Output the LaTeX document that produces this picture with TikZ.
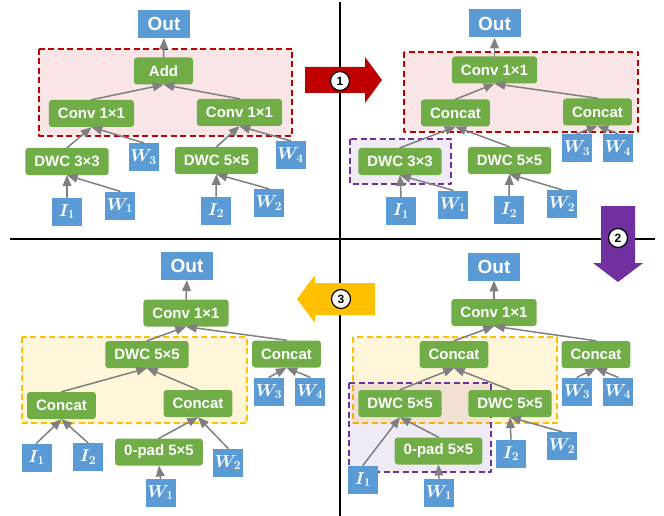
\documentclass[tikz,border=0pt]{standalone}
\usepackage{fontspec}
\setmainfont{Liberation Sans}
\usepackage{tikz}
\usetikzlibrary{arrows}

\definecolor{opgreen}{HTML}{70AD47}
\definecolor{inblue}{HTML}{5B9BD5}
\definecolor{edgegray}{HTML}{7F7F7F}
\definecolor{stepred}{HTML}{C00000}
\definecolor{steppurple}{HTML}{7030A0}
\definecolor{steporange}{HTML}{FFC000}

\begin{document}
\begin{tikzpicture}[line cap=round,line join=round,>=triangle 45,x=1pt,y=-1pt,
  op/.style={fill=opgreen,rounded corners=3pt,text=white,font=\fontsize{15}{15}\bfseries\selectfont,
    minimum height=27pt,inner xsep=9pt,inner ysep=0pt},
  var/.style={fill=inblue,text=white,font=\fontsize{17.5}{17.5}\selectfont\boldmath,minimum width=30pt,
    minimum height=28pt,inner sep=0pt},
  outbox/.style={fill=inblue,text=white,font=\fontsize{19}{19}\bfseries\selectfont,minimum width=52pt,
    minimum height=28pt,inner sep=0pt},
  edge/.style={->,draw=edgegray,line width=1.5pt},
  group/.style={dashed,dash pattern=on 6pt off 3.5pt,line width=2.2pt,line cap=butt},
  stepnum/.style={circle,draw=black,fill=white,line width=1.2pt,minimum size=19pt,inner sep=0pt,
    font=\fontsize{12}{12}\bfseries\selectfont}]
\useasboundingbox (0,0) rectangle (664,516);
% dashed groups
\draw [group,draw=stepred,fill=stepred,fill opacity=0.1] (39,49) rectangle (292,136);
\draw [group,draw=stepred,fill=stepred,fill opacity=0.1] (404,52) rectangle (638,132);
\draw [group,draw=steppurple,fill=steppurple,fill opacity=0.1] (350,139) rectangle (451,184);
\draw [group,draw=steporange,fill=steporange,fill opacity=0.15] (22,337) rectangle (247,423);
\draw [group,draw=steporange,fill=steporange,fill opacity=0.15] (353,337) rectangle (557,423);
\draw [group,draw=steppurple,fill=steppurple,fill opacity=0.1] (349,383) rectangle (491,472);
% separators
\draw [line width=2.5pt,line cap=butt] (340,2) -- (340,516);
\draw [line width=2.5pt,line cap=butt] (10,239) -- (655,239);
% step arrows
\fill [stepred] (305,67) -- (365,67) -- (365,57) -- (382,80) -- (365,103) -- (365,93) -- (305,93) -- cycle;
\fill [steppurple] (601,206) -- (635,206) -- (635,263) -- (643,263) -- (618,282) -- (593,263) -- (601,263) -- cycle;
\fill [steporange] (375,283) -- (315,283) -- (315,275) -- (297,299) -- (315,323) -- (315,315) -- (375,315) -- cycle;
\node [stepnum] (n1) at (340,81) {1};
\node [stepnum] (n2) at (618,238) {2};
\node [stepnum] (n3) at (341,299) {3};
% top left
\node [outbox] (aOut) at (164,24) {Out};
\node [op,minimum width=59pt] (aAdd) at (163.5,71) {Add};
\node [op] (aConvL) at (91.5,113.5) {Conv 1×1};
\node [op] (aConvR) at (239.5,112.5) {Conv 1×1};
\node [op] (aDwcL) at (67,161.5) {DWC 3×3};
\node [op] (aDwcR) at (216.5,160.5) {DWC 5×5};
\node [var] (aW3) at (143.5,157) {$W_3$};
\node [var] (aW4) at (290.5,155) {$W_4$};
\node [var] (aI1) at (67,211.5) {$I_1$};
\node [var] (aW1) at (120,205.5) {$W_1$};
\node [var] (aI2) at (216,210.5) {$I_2$};
\node [var] (aW2) at (269,203) {$W_2$};
\draw [edge] (aAdd.north) -- (aOut.south);
\draw [edge] (aConvL.north) -- (aAdd.south);
\draw [edge] (aConvR.north) -- (aAdd.south);
\draw [edge] (aDwcL.north) -- (aConvL.south);
\draw [edge] (aW3.north) -- (aConvL.south);
\draw [edge] (aDwcR.north) -- (aConvR.south);
\draw [edge] (aW4.north) -- (aConvR.south);
\draw [edge] (aI1.north) -- (aDwcL.south);
\draw [edge] (aW1.north) -- (aDwcL.south);
\draw [edge] (aI2.north) -- (aDwcR.south);
\draw [edge] (aW2.north) -- (aDwcR.south);
% top right
\node [outbox] (bOut) at (494.5,23.5) {Out};
\node [op] (bConv) at (494.5,70) {Conv 1×1};
\node [op] (bCatL) at (455.5,113) {Concat};
\node [op] (bCatR) at (597.5,112) {Concat};
\node [var] (bW3) at (577,148) {$W_3$};
\node [var] (bW4) at (618,148) {$W_4$};
\node [op] (bDwcL) at (400,161.5) {DWC 3×3};
\node [op] (bDwcR) at (509.5,160.5) {DWC 5×5};
\node [var] (bI1) at (401,211) {$I_1$};
\node [var] (bW1) at (453,204.5) {$W_1$};
\node [var] (bI2) at (509,210) {$I_2$};
\node [var] (bW2) at (562,204) {$W_2$};
\draw [edge] (bConv.north) -- (bOut.south);
\draw [edge] (bCatL.north) -- (bConv.south);
\draw [edge] (bCatR.north) -- (bConv.south);
\draw [edge] (bW3.north) -- (bCatR.south);
\draw [edge] (bW4.north) -- (bCatR.south);
\draw [edge] (bDwcL.north) -- (bCatL.south);
\draw [edge] (bDwcR.north) -- (bCatL.south);
\draw [edge] (bI1.north) -- (bDwcL.south);
\draw [edge] (bW1.north) -- (bDwcL.south);
\draw [edge] (bI2.north) -- (bDwcR.south);
\draw [edge] (bW2.north) -- (bDwcR.south);
% bottom left
\node [outbox] (cOut) at (187,266) {Out};
\node [op] (cConv) at (186,313) {Conv 1×1};
\node [op] (cDwc) at (147,354.5) {DWC 5×5};
\node [op] (cCatR) at (286.5,354) {Concat};
\node [var] (cW3) at (269,391.5) {$W_3$};
\node [var] (cW4) at (310,391.5) {$W_4$};
\node [op] (cCatL) at (61.5,405.5) {Concat};
\node [op] (cCatM) at (198,403.5) {Concat};
\node [var] (cI1) at (36.5,457.5) {$I_1$};
\node [var] (cI2) at (88,457) {$I_2$};
\node [op] (cPad) at (159,452) {0-pad 5×5};
\node [var] (cW2) at (228,462.5) {$W_2$};
\node [var] (cW1) at (160.5,492.5) {$W_1$};
\draw [edge] (cConv.north) -- (cOut.south);
\draw [edge] (cDwc.north) -- (cConv.south);
\draw [edge] (cCatR.north) -- (cConv.south);
\draw [edge] (cW3.north) -- (cCatR.south);
\draw [edge] (cW4.north) -- (cCatR.south);
\draw [edge] (cCatL.north) -- (cDwc.south);
\draw [edge] (cCatM.north) -- (cDwc.south);
\draw [edge] (cI1.north) -- (cCatL.south);
\draw [edge] (cI2.north) -- (cCatL.south);
\draw [edge] (cPad.north) -- (cCatM.south);
\draw [edge] (cW2.north) -- (cCatM.south);
\draw [edge] (cW1.north) -- (cPad.south);
% bottom right
\node [outbox] (dOut) at (494,266.5) {Out};
\node [op] (dConv) at (494,312.5) {Conv 1×1};
\node [op] (dCat) at (454,354.5) {Concat};
\node [op] (dCatR) at (596,354.5) {Concat};
\node [var] (dW3) at (577,391.5) {$W_3$};
\node [var] (dW4) at (618,391.5) {$W_4$};
\node [op] (dDwcL) at (400,403.5) {DWC 5×5};
\node [op] (dDwcR) at (510,403.5) {DWC 5×5};
\node [op] (dPad) at (438.5,451) {0-pad 5×5};
\node [var] (dI1) at (363,479.5) {$I_1$};
\node [var] (dI2) at (511,453.5) {$I_2$};
\node [var] (dW2) at (562,446) {$W_2$};
\node [var] (dW1) at (439,492.5) {$W_1$};
\draw [edge] (dConv.north) -- (dOut.south);
\draw [edge] (dCat.north) -- (dConv.south);
\draw [edge] (dCatR.north) -- (dConv.south);
\draw [edge] (dW3.north) -- (dCatR.south);
\draw [edge] (dW4.north) -- (dCatR.south);
\draw [edge] (dDwcL.north) -- (dCat.south);
\draw [edge] (dDwcR.north) -- (dCat.south);
\draw [edge] (dI1.north) -- (dDwcL.south);
\draw [edge] (dPad.north) -- (dDwcL.south);
\draw [edge] (dI2.north) -- (dDwcR.south);
\draw [edge] (dW2.north) -- (dDwcR.south);
\draw [edge] (dW1.north) -- (dPad.south);
\end{tikzpicture}
\end{document}
